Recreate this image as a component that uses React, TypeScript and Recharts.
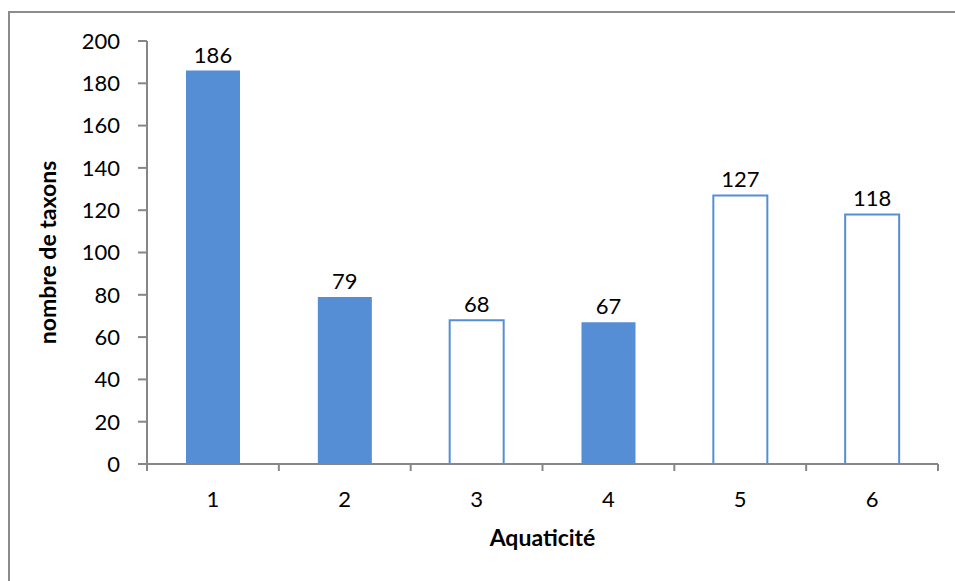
import React from "react";
import { BarChart, Bar, XAxis, YAxis, Cell, LabelList, Label } from "recharts";

const categories = ["1", "2", "3", "4", "5", "6"];
const taxonCounts = [186, 79, 68, 67, 127, 118];
const filledBars = [true, true, false, true, false, false];
const yTicks = [0, 20, 40, 60, 80, 100, 120, 140, 160, 180, 200];

const data = categories.map((cat, i) => ({
  cat,
  value: taxonCounts[i],
  filled: filledBars[i],
}));

const WIDTH = 955;
const HEIGHT = 581;
const PLOT_LEFT = 147;
const PLOT_RIGHT = 938;
const PLOT_TOP = 41;
const AXIS_Y = 464;
const BAND = (PLOT_RIGHT - PLOT_LEFT) / categories.length;

const BLUE = "#558ed5";
const AXIS_GREY = "#868686";
const FONT = "Lato, 'Open Sans', sans-serif";
const NUM_SIZE = 22;
const TITLE_SIZE = 23;

const XTick = (props: any) => {
  const { x, y, payload, index } = props;
  const half = BAND / 2;
  return (
    <g>
      <line x1={x - half} x2={x - half} y1={AXIS_Y} y2={AXIS_Y + 7} stroke={AXIS_GREY} strokeWidth={2} />
      {index === categories.length - 1 && (
        <line x1={x + half} x2={x + half} y1={AXIS_Y} y2={AXIS_Y + 7} stroke={AXIS_GREY} strokeWidth={2} />
      )}
      <text x={x} y={y} dy="0.71em" textAnchor="middle" fill="#000" fontSize={NUM_SIZE} fontFamily={FONT}>
        {payload.value}
      </text>
    </g>
  );
};

const YTitle = () => (
  <text
    x={47}
    y={(PLOT_TOP + AXIS_Y) / 2}
    transform={`rotate(-90 47 ${(PLOT_TOP + AXIS_Y) / 2})`}
    textAnchor="middle"
    dominantBaseline="central"
    fontSize={TITLE_SIZE}
    fontWeight={700}
    fontFamily={FONT}
    fill="#000"
  >
    nombre de taxons
  </text>
);

export default function App() {
  return (
    <div style={{ position: "fixed", left: 0, top: 0, width: WIDTH, height: HEIGHT, overflow: "hidden", background: "#fff" }}>
      <div
        style={{
          position: "absolute",
          left: 8,
          top: 11,
          width: 1200,
          height: 1200,
          borderLeft: "2px solid #8c8c8c",
          borderTop: "2px solid #8c8c8c",
        }}
      />
      <div style={{ position: "absolute", left: 0, top: 0 }}>
        <BarChart
          width={WIDTH}
          height={HEIGHT}
          data={data}
          margin={{ top: PLOT_TOP, right: WIDTH - PLOT_RIGHT, bottom: 0, left: 0 }}
          barSize={54}
        >
          <XAxis
            dataKey="cat"
            height={HEIGHT - AXIS_Y}
            interval={0}
            axisLine={{ stroke: AXIS_GREY, strokeWidth: 2 }}
            tickLine={false}
            tickSize={6}
            tickMargin={21}
            tick={<XTick />}
          >
            <Label
              value="Aquaticité"
              position="insideTop"
              offset={66}
              style={{ fontSize: TITLE_SIZE, fontWeight: 700, fontFamily: FONT, fill: "#000" }}
            />
          </XAxis>
          <YAxis
            width={PLOT_LEFT}
            domain={[0, 200]}
            ticks={yTicks}
            interval={0}
            axisLine={{ stroke: AXIS_GREY, strokeWidth: 2 }}
            tickLine={{ stroke: AXIS_GREY, strokeWidth: 2 }}
            tickSize={9}
            tickMargin={18}
            tick={{ fill: "#000", fontSize: NUM_SIZE, fontFamily: FONT }}
          >
            <Label content={<YTitle />} />
          </YAxis>
          <Bar dataKey="value" isAnimationActive={false}>
            {data.map((d, i) => (
              <Cell
                key={`cell-${i}`}
                fill={d.filled ? BLUE : "#ffffff"}
                stroke={d.filled ? "none" : BLUE}
                strokeWidth={d.filled ? 0 : 2}
              />
            ))}
            <LabelList
              dataKey="value"
              position="top"
              offset={8}
              style={{ fill: "#000", fontSize: NUM_SIZE, fontFamily: FONT }}
            />
          </Bar>
        </BarChart>
      </div>
    </div>
  );
}
